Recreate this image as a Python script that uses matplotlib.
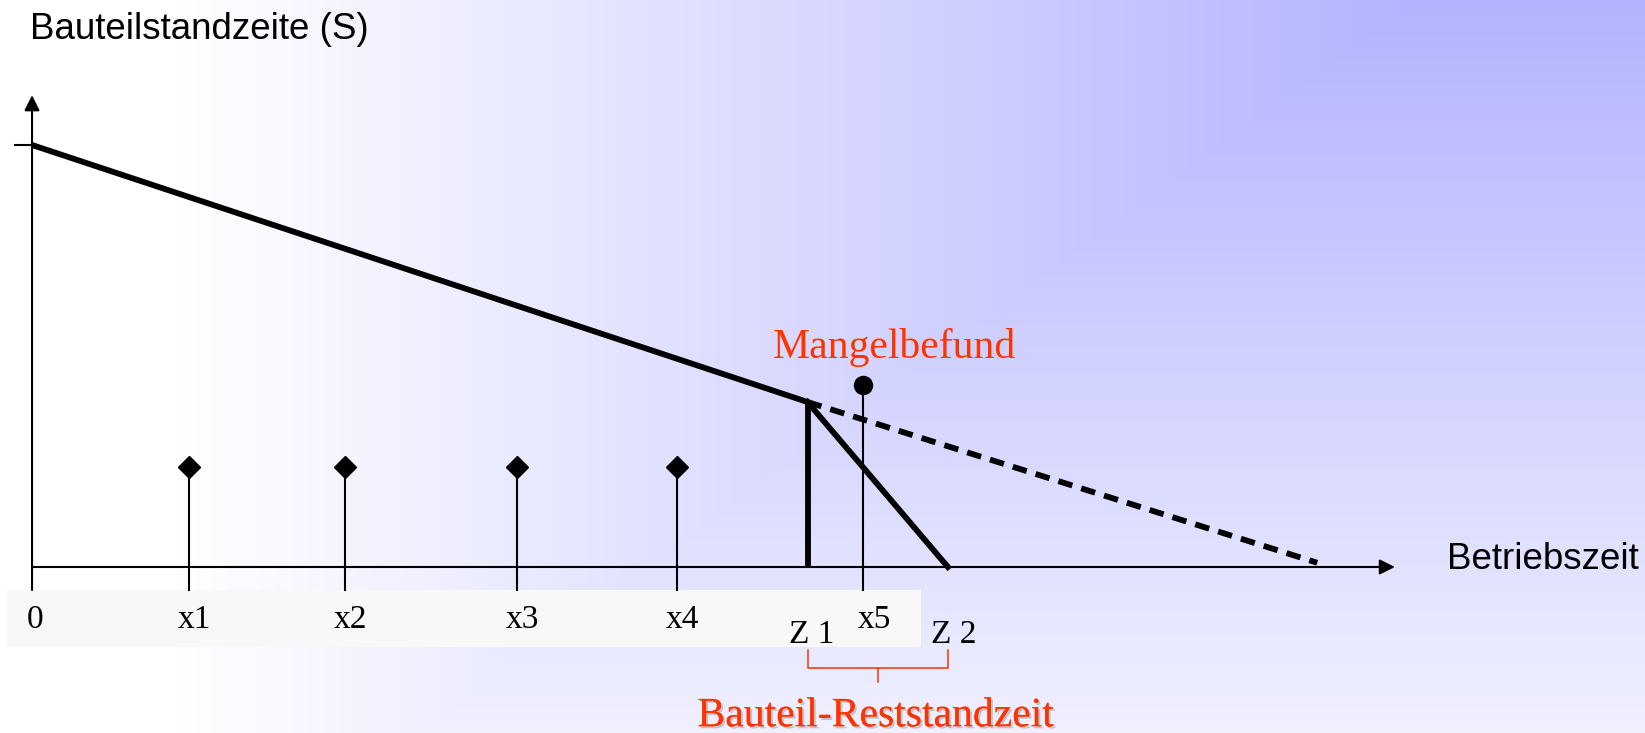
import numpy as np
import matplotlib
matplotlib.use("Agg")
import matplotlib.pyplot as plt
import matplotlib.patheffects as pe

# time axis runs 0..100, standzeit S starts at 100
inspect_x = [11.5, 23.0, 35.6, 47.3]
inspect_y = [23.6, 23.6, 23.6, 23.6]
inspect_labels = ["x1", "x2", "x3", "x4"]
defect_x = 61.0
defect_y = 43.1
z1, z2 = 56.9, 67.2
s_start = 100
knee_y = 39.1
planned_end = (94.3, 1.0)

SERIF = "Liberation Serif"
SANS = "Liberation Sans"
RED = "#ff3300"

fig = plt.figure(figsize=(16.45, 7.33), dpi=100)
ax = fig.add_axes([0, 0, 1, 1])
xlim = (-2.35, 118.35)
ylim = (-39.34, 134.36)
ax.set_xlim(*xlim)
ax.set_ylim(*ylim)
ax.axis("off")

# background gradient, lavender in the top right corner fading to white
W, H = 1645, 733
px = np.arange(W)[None, :]
py = np.arange(H)[:, None]
dx = np.maximum((W - px) - 229, 0) * 0.735
t = np.clip(np.maximum(dx, py) / 910.0, 0, 1)
bg = np.zeros((H, W, 3))
bg[..., 0] = (179 + 76 * t) / 255
bg[..., 1] = (179 + 76 * t) / 255
bg[..., 2] = 1.0
ax.imshow(bg, extent=(xlim[0], xlim[1], ylim[0], ylim[1]), origin="upper",
          aspect="auto", zorder=0)

# label strip under the axis
ax.fill_between([-1.83, 65.2], -18.96, -5.45, color="#f8f8f8", lw=0, zorder=1)

# axes with arrows
arrow = dict(arrowstyle="-|>", lw=1.5, color="k", mutation_scale=23,
             shrinkA=0, shrinkB=0)
ax.annotate("", xy=(100, 0), xytext=(0, 0), arrowprops=arrow, zorder=3)
ax.annotate("", xy=(0, 111.8), xytext=(0, -5.45), arrowprops=arrow, zorder=3)
ax.plot([-1.25, 0], [s_start, s_start], color="k", lw=1.5, zorder=3)

# inspections
for x, y in zip(inspect_x, inspect_y):
    ax.plot([x, x], [-5.45, y], color="k", lw=1.5, zorder=3)
ax.plot(inspect_x, inspect_y, "D", color="k", ms=11.5, zorder=4)
ax.plot([defect_x, defect_x], [-5.45, defect_y], color="k", lw=1.5, zorder=3)
ax.plot([defect_x], [defect_y], "o", color="k", ms=13, zorder=4)

# wear curves
LW = 4.2
ax.plot([0, z1], [s_start, knee_y], color="k", lw=LW, solid_capstyle="butt", zorder=5)
ax.plot([z1, planned_end[0]], [knee_y, planned_end[1]], color="k", lw=LW,
        dashes=(2.5, 1.6), zorder=5)
ax.plot([z1, z1], [0, knee_y], color="k", lw=LW, solid_capstyle="butt", zorder=5)
ax.plot([z1, z2], [knee_y, 0], color="k", lw=LW, zorder=5)

# tick labels
FS = 24
ax.text(0.22, -12.6, "0", family=SERIF, fontsize=FS, ha="center", va="center", zorder=6)
for x, lab in zip(inspect_x, inspect_labels):
    ax.text(x + 0.4, -12.6, lab, family=SERIF, fontsize=FS, ha="center", va="center", zorder=6)
ax.text(defect_x + 0.8, -12.6, "x5", family=SERIF, fontsize=FS, ha="center", va="center", zorder=6)
ax.text(z1 + 0.3, -16.1, "Z 1", family=SERIF, fontsize=FS, ha="center", va="center", zorder=6)
ax.text(z2 + 0.4, -16.1, "Z 2", family=SERIF, fontsize=FS, ha="center", va="center", zorder=6)

# axis titles
ax.text(-0.15, 127.3, "Bauteilstandzeite (S)", family=SANS, fontsize=26.5,
        ha="left", va="center", zorder=6)
ax.text(103.8, 1.66, "Betriebszeit", family=SANS, fontsize=26.5,
        ha="left", va="center", zorder=6)

# bracket for remaining life
mid = (z1 + z2) / 2
ax.plot([z1, z1, z2, z2], [-19.7, -23.9, -23.9, -19.7], color=RED, lw=1.1, zorder=6)
ax.plot([mid, mid], [-23.9, -27.3], color=RED, lw=1.1, zorder=6)

ax.text(63.3, 51.9, "Mangelbefund", family=SERIF, fontsize=30, color=RED,
        ha="center", va="center", zorder=6)
ax.text(61.9, -35.3, "Bauteil-Reststandzeit", family=SERIF, fontsize=30, color=RED,
        ha="center", va="center", zorder=6,
        path_effects=[pe.withSimplePatchShadow(offset=(1.5, -1.5), shadow_rgbFace="#999999",
                                              alpha=0.5), pe.Normal()])

fig.savefig("out.png", dpi=100)
